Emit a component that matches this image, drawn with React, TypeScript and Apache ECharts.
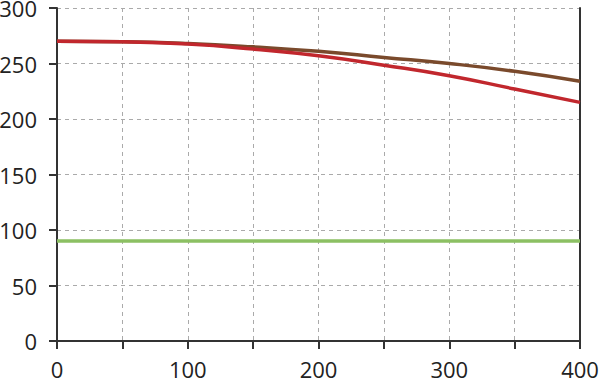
import React, { useEffect, useRef } from "react";
import * as echarts from "echarts";

const xValues = [0, 50, 100, 150, 200, 250, 300, 350, 400];
const brownValues = [270, 269.6, 268, 265, 261, 255.5, 250, 243, 234];
const redValues = [270, 269.5, 267.5, 263, 257, 248.5, 239, 227, 215];
const greenValues = [90, 90, 90, 90, 90, 90, 90, 90, 90];

const pair = (ys: number[]) => xValues.map((x, i) => [x, ys[i]]);

export default function App() {
  const ref = useRef<HTMLDivElement>(null);
  useEffect(() => {
    if (!ref.current) return;
    const chart = echarts.init(ref.current, undefined, { renderer: "svg" });
    const font = "'Open Sans', sans-serif";
    chart.setOption({
      animation: false,
      grid: { left: 57, right: 20, top: 8, bottom: 38, containLabel: false, outerBoundsMode: "none" },
      xAxis: {
        type: "value",
        min: 0,
        max: 400,
        interval: 50,
        axisLine: { show: true, lineStyle: { color: "#333", width: 2 } },
        axisTick: { show: true, length: 8, lineStyle: { color: "#333", width: 2 } },
        axisLabel: {
          color: "#222",
          fontSize: 22,
          fontFamily: font,
          margin: 17,
          formatter: (v: number) => (v % 100 === 0 ? String(v) : ""),
        },
        splitLine: { show: true, lineStyle: { color: "#aaa", type: [4, 4], width: 1 } },
      },
      yAxis: [
        {
          type: "value",
          min: 0,
          max: 300,
          interval: 50,
          axisLine: { show: true, lineStyle: { color: "#333", width: 2 } },
          axisTick: { show: true, length: 8, lineStyle: { color: "#333", width: 2 } },
          axisLabel: { color: "#222", fontSize: 22, fontFamily: font, margin: 20 },
          splitLine: { show: true, lineStyle: { color: "#aaa", type: [4, 4], width: 1 } },
        },
        {
          type: "value",
          position: "right",
          min: 0,
          max: 300,
          interval: 50,
          axisLine: { show: true, lineStyle: { color: "#333", width: 2 } },
          axisTick: { show: false },
          axisLabel: { show: false },
          splitLine: { show: false },
        },
      ],
      series: [
        {
          type: "line",
          data: pair(greenValues),
          showSymbol: false,
          lineStyle: { color: "#8cc063", width: 3.5 },
        },
        {
          type: "line",
          data: pair(brownValues),
          smooth: true,
          showSymbol: false,
          lineStyle: { color: "#7a4a2c", width: 3.5 },
        },
        {
          type: "line",
          data: pair(redValues),
          smooth: true,
          showSymbol: false,
          lineStyle: { color: "#c1272d", width: 3.5 },
        },
      ],
    });
    return () => chart.dispose();
  }, []);
  return <div ref={ref} style={{ width: 600, height: 379, position: "absolute", left: 0, top: 0 }} />;
}
